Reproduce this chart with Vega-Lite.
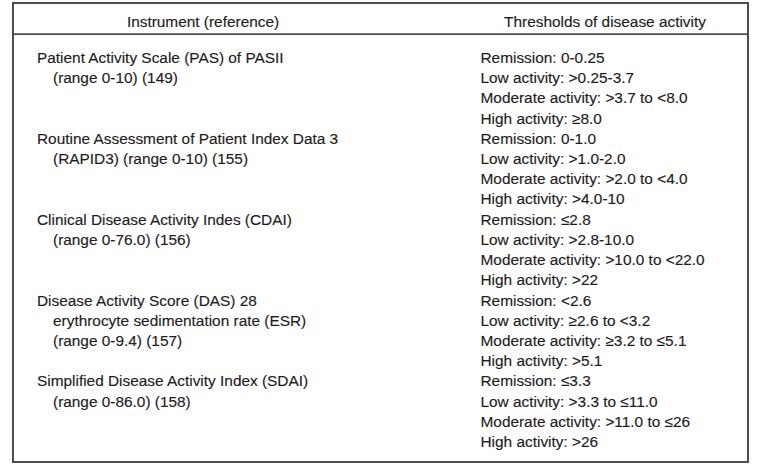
{
  "$schema": "https://vega.github.io/schema/vega-lite/v6.json",
  "width": 735,
  "height": 459,
  "autosize": {"type": "none"},
  "padding": {"left": 13, "top": 3, "right": 12, "bottom": 3},
  "background": "white",
  "config": {
    "view": {"stroke": "#4d4d4d", "strokeWidth": 2},
    "text": {"font": "Liberation Sans", "fontSize": 15.4, "color": "#1e1c1d", "stroke": "#1e1c1d", "strokeWidth": 0.15, "baseline": "alphabetic"}
  },
  "datasets": {
    "body": [
      {"column": "Instrument (reference)", "line": 0, "indent": 0, "text": "Patient Activity Scale (PAS) of PASII"},
      {"column": "Instrument (reference)", "line": 1, "indent": 1, "text": "(range 0-10) (149)"},
      {"column": "Instrument (reference)", "line": 4, "indent": 0, "text": "Routine Assessment of Patient Index Data 3"},
      {"column": "Instrument (reference)", "line": 5, "indent": 1, "text": "(RAPID3) (range 0-10) (155)"},
      {"column": "Instrument (reference)", "line": 8, "indent": 0, "text": "Clinical Disease Activity Indes (CDAI)"},
      {"column": "Instrument (reference)", "line": 9, "indent": 1, "text": "(range 0-76.0) (156)"},
      {"column": "Instrument (reference)", "line": 12, "indent": 0, "text": "Disease Activity Score (DAS) 28"},
      {"column": "Instrument (reference)", "line": 13, "indent": 1, "text": "erythrocyte sedimentation rate (ESR)"},
      {"column": "Instrument (reference)", "line": 14, "indent": 1, "text": "(range 0-9.4) (157)"},
      {"column": "Instrument (reference)", "line": 16, "indent": 0, "text": "Simplified Disease Activity Index (SDAI)"},
      {"column": "Instrument (reference)", "line": 17, "indent": 1, "text": "(range 0-86.0) (158)"},
      {"column": "Thresholds of disease activity", "line": 0, "indent": 0, "text": "Remission: 0-0.25"},
      {"column": "Thresholds of disease activity", "line": 1, "indent": 0, "text": "Low activity: >0.25-3.7"},
      {"column": "Thresholds of disease activity", "line": 2, "indent": 0, "text": "Moderate activity: >3.7 to <8.0"},
      {"column": "Thresholds of disease activity", "line": 3, "indent": 0, "text": "High activity: ≥8.0"},
      {"column": "Thresholds of disease activity", "line": 4, "indent": 0, "text": "Remission: 0-1.0"},
      {"column": "Thresholds of disease activity", "line": 5, "indent": 0, "text": "Low activity: >1.0-2.0"},
      {"column": "Thresholds of disease activity", "line": 6, "indent": 0, "text": "Moderate activity: >2.0 to <4.0"},
      {"column": "Thresholds of disease activity", "line": 7, "indent": 0, "text": "High activity: >4.0-10"},
      {"column": "Thresholds of disease activity", "line": 8, "indent": 0, "text": "Remission: ≤2.8"},
      {"column": "Thresholds of disease activity", "line": 9, "indent": 0, "text": "Low activity: >2.8-10.0"},
      {"column": "Thresholds of disease activity", "line": 10, "indent": 0, "text": "Moderate activity: >10.0 to <22.0"},
      {"column": "Thresholds of disease activity", "line": 11, "indent": 0, "text": "High activity: >22"},
      {"column": "Thresholds of disease activity", "line": 12, "indent": 0, "text": "Remission: <2.6"},
      {"column": "Thresholds of disease activity", "line": 13, "indent": 0, "text": "Low activity: ≥2.6 to <3.2"},
      {"column": "Thresholds of disease activity", "line": 14, "indent": 0, "text": "Moderate activity: ≥3.2 to ≤5.1"},
      {"column": "Thresholds of disease activity", "line": 15, "indent": 0, "text": "High activity: >5.1"},
      {"column": "Thresholds of disease activity", "line": 16, "indent": 0, "text": "Remission: ≤3.3"},
      {"column": "Thresholds of disease activity", "line": 17, "indent": 0, "text": "Low activity: >3.3 to ≤11.0"},
      {"column": "Thresholds of disease activity", "line": 18, "indent": 0, "text": "Moderate activity: >11.0 to ≤26"},
      {"column": "Thresholds of disease activity", "line": 19, "indent": 0, "text": "High activity: >26"}
    ],
    "header": [
      {"column": "Instrument (reference)"},
      {"column": "Thresholds of disease activity"}
    ]
  },
  "resolve": {"scale": {"x": "independent"}},
  "layer": [
    {
      "data": {"name": "header"},
      "mark": {"type": "rule", "stroke": "#4d4d4d", "strokeWidth": 1.5},
      "encoding": {
        "y": {"datum": -1.42, "type": "quantitative", "scale": {"domain": [0, 19], "range": [60, 444], "zero": false, "nice": false}, "axis": null}
      }
    },
    {
      "data": {"name": "header"},
      "mark": {"type": "text", "align": "center"},
      "encoding": {
        "x": {"field": "column", "type": "nominal", "scale": {"domain": ["Instrument (reference)", "Thresholds of disease activity"], "range": [190, 592], "padding": 0}, "axis": null},
        "y": {"datum": -1.78, "type": "quantitative", "scale": {"domain": [0, 19], "range": [60, 444], "zero": false, "nice": false}, "axis": null},
        "text": {"field": "column"}
      }
    },
    {
      "data": {"name": "body"},
      "transform": [{"filter": "datum.indent == 0"}],
      "mark": {"type": "text", "align": "left"},
      "encoding": {
        "x": {"field": "column", "type": "nominal", "scale": {"domain": ["Instrument (reference)", "Thresholds of disease activity"], "range": [24, 467.5], "padding": 0}, "axis": null},
        "y": {"field": "line", "type": "quantitative", "scale": {"domain": [0, 19], "range": [60, 444], "zero": false, "nice": false}, "axis": null},
        "text": {"field": "text"}
      }
    },
    {
      "data": {"name": "body"},
      "transform": [{"filter": "datum.indent == 1"}],
      "mark": {"type": "text", "align": "left", "dx": 16},
      "encoding": {
        "x": {"field": "column", "type": "nominal", "scale": {"domain": ["Instrument (reference)", "Thresholds of disease activity"], "range": [24, 467.5], "padding": 0}, "axis": null},
        "y": {"field": "line", "type": "quantitative", "scale": {"domain": [0, 19], "range": [60, 444], "zero": false, "nice": false}, "axis": null},
        "text": {"field": "text"}
      }
    }
  ]
}
